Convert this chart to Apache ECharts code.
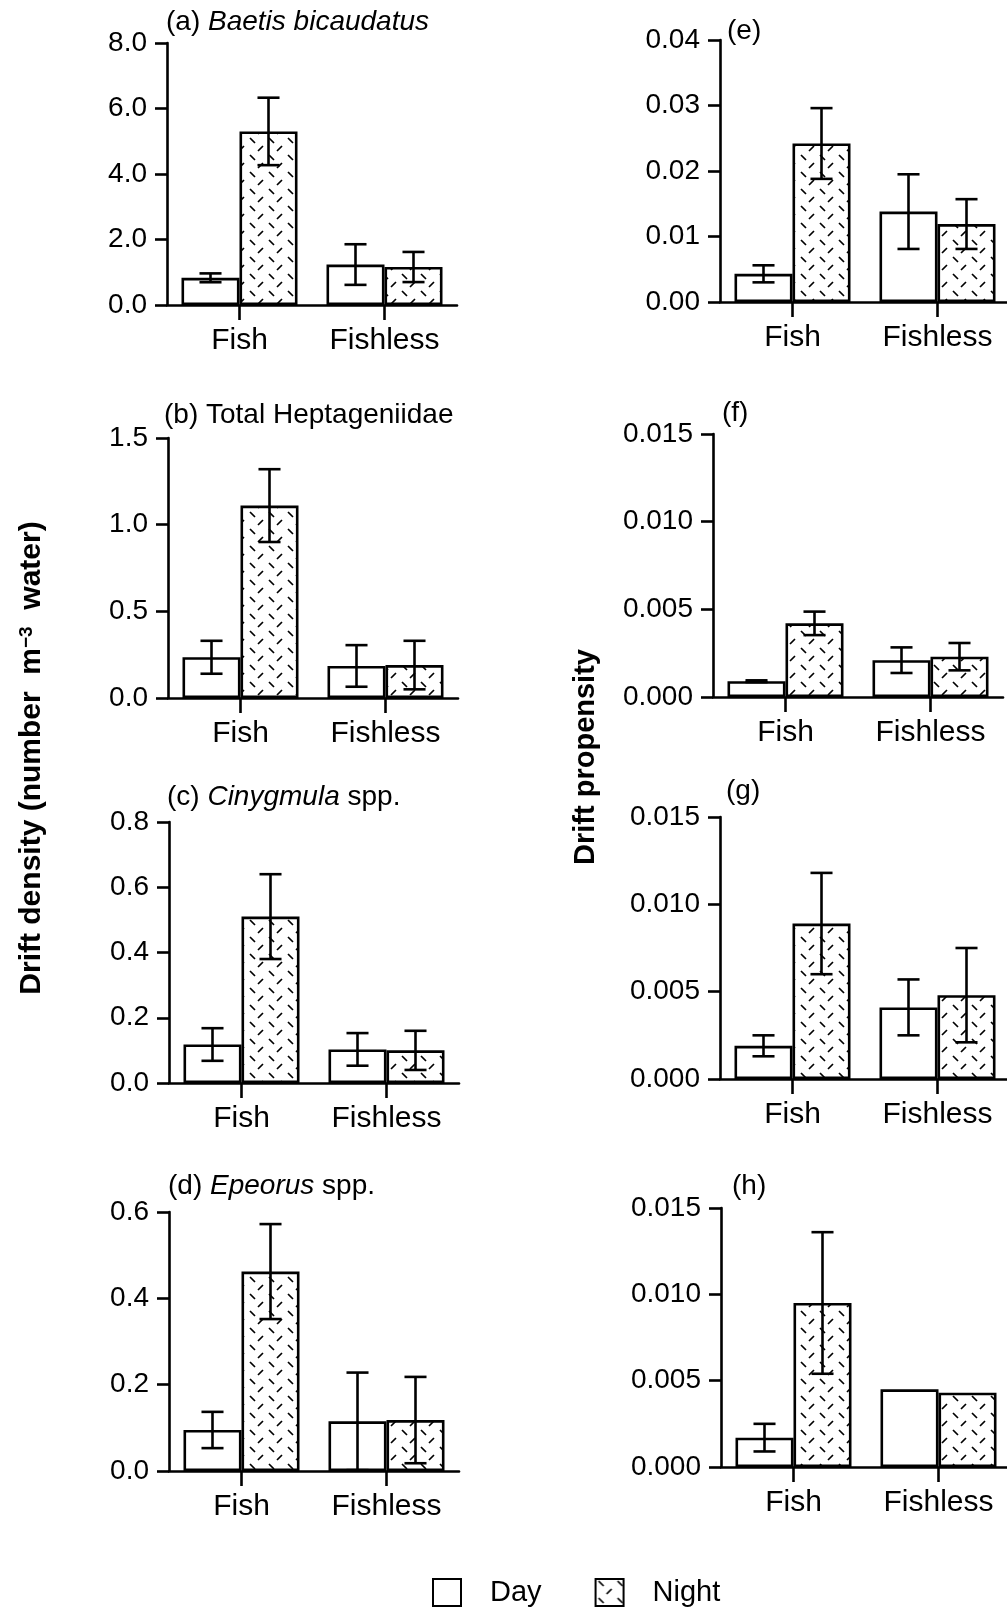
<!DOCTYPE html>
<html>
<head>
<meta charset="utf-8">
<script src="https://cdn.jsdelivr.net/npm/echarts@6/dist/echarts.min.js"></script>
<style>
html,body{margin:0;padding:0;background:#fff;}
#chart{width:1007px;height:1610px;}
</style>
</head>
<body>
<div id="chart"></div>
<script>
// ---------- data ----------
const categories = ['Fish', 'Fishless'];
const legendNames = ['Day', 'Night'];

// (a) Baetis bicaudatus – drift density
const aDay = [0.83, 1.235];
const aDayErr = [0.135, 0.62];
const aNight = [5.3, 1.16];
const aNightErr = [1.03, 0.46];
const aTicks = [0, 8, 2];

// (b) Total Heptageniidae – drift density
const bDay = [0.235, 0.185];
const bDayErr = [0.095, 0.12];
const bNight = [1.11, 0.19];
const bNightErr = [0.21, 0.14];
const bTicks = [0, 1.5, 0.5];

// (c) Cinygmula spp. – drift density
const cDay = [0.118, 0.103];
const cDayErr = [0.05, 0.05];
const cNight = [0.51, 0.10];
const cNightErr = [0.13, 0.06];
const cTicks = [0, 0.8, 0.2];

// (d) Epeorus spp. – drift density
const dDay = [0.095, 0.115];
const dDayErr = [0.042, 0.113];
const dNight = [0.462, 0.118];
const dNightErr = [0.11, 0.10];
const dTicks = [0, 0.6, 0.2];

// (e) drift propensity
const eDay = [0.0043, 0.0138];
const eDayErr = [0.0013, 0.0057];
const eNight = [0.0242, 0.0119];
const eNightErr = [0.0054, 0.0038];
const eTicks = [0, 0.04, 0.01];

// (f) drift propensity
const fDay = [0.0009, 0.0021];
const fDayErr = [0.00005, 0.00073];
const fNight = [0.0042, 0.0023];
const fNightErr = [0.00067, 0.00078];
const fTicks = [0, 0.015, 0.005];

// (g) drift propensity
const gDay = [0.0019, 0.0041];
const gDayErr = [0.0006, 0.0016];
const gNight = [0.0089, 0.0048];
const gNightErr = [0.0029, 0.0027];
const gTicks = [0, 0.015, 0.005];

// (h) drift propensity
const hDay = [0.0017, 0.0045];
const hDayErr = [0.0008, 0];
const hNight = [0.0095, 0.0043];
const hNightErr = [0.0041, 0];
const hTicks = [0, 0.015, 0.005];

// ---------- styling / layout ----------
const FONT = '"Liberation Sans", Arial, Helvetica, sans-serif';
const LW = 2.6;

function makePattern() {
  const W = 19, H = 17;
  const c = document.createElement('canvas');
  c.width = W; c.height = H;
  const ctx = c.getContext('2d');
  ctx.fillStyle = '#fff';
  ctx.fillRect(0, 0, W, H);
  ctx.strokeStyle = '#000';
  ctx.lineWidth = 1.7;
  ctx.lineCap = 'butt';
  ctx.beginPath();
  ctx.moveTo(3, 2); ctx.lineTo(8, 7);       // "\" dash
  ctx.moveTo(16, 10); ctx.lineTo(11, 15);   // "/" dash
  ctx.stroke();
  return c;
}
const hatch = { image: makePattern(), repeat: 'repeat' };

const panels = [
  { day: aDay, dayErr: aDayErr, night: aNight, nightErr: aNightErr, ticks: aTicks, dec: 1, left: 167, top: 43, height: 262 },
  { day: bDay, dayErr: bDayErr, night: bNight, nightErr: bNightErr, ticks: bTicks, dec: 1, left: 168, top: 438, height: 260 },
  { day: cDay, dayErr: cDayErr, night: cNight, nightErr: cNightErr, ticks: cTicks, dec: 1, left: 169, top: 822, height: 261 },
  { day: dDay, dayErr: dDayErr, night: dNight, nightErr: dNightErr, ticks: dTicks, dec: 1, left: 169, top: 1212, height: 259 },
  { day: eDay, dayErr: eDayErr, night: eNight, nightErr: eNightErr, ticks: eTicks, dec: 2, left: 720, top: 40, height: 262 },
  { day: fDay, dayErr: fDayErr, night: fNight, nightErr: fNightErr, ticks: fTicks, dec: 3, left: 713, top: 434, height: 263 },
  { day: gDay, dayErr: gDayErr, night: gNight, nightErr: gNightErr, ticks: gTicks, dec: 3, left: 720, top: 817, height: 262 },
  { day: hDay, dayErr: hDayErr, night: hNight, nightErr: hNightErr, ticks: hTicks, dec: 3, left: 721, top: 1208, height: 259 }
];

const titles = [
  { x: 166, y: 22, text: '(a) {i|Baetis bicaudatus}' },
  { x: 164, y: 415, text: '(b) Total Heptageniidae' },
  { x: 167, y: 797, text: '(c) {i|Cinygmula} spp.' },
  { x: 168, y: 1186, text: '(d) {i|Epeorus} spp.' },
  { x: 727, y: 31, text: '(e)' },
  { x: 722, y: 413, text: '(f)' },
  { x: 726, y: 791, text: '(g)' },
  { x: 732, y: 1186, text: '(h)' }
];

function renderErr(params, api) {
  const cat = api.value(0), mean = api.value(1), err = api.value(2), side = api.value(3);
  if (!err) return null;
  const band = api.size([1, 0])[0];
  const barW = band * 0.8 / 2;
  const cx = api.coord([cat, 0])[0] + side * barW / 2;
  const yTop = api.coord([cat, mean + err])[1];
  const yBot = api.coord([cat, mean - err])[1];
  const cap = barW * 0.19;
  const st = { stroke: '#000', lineWidth: LW };
  return {
    type: 'group',
    children: [
      { type: 'line', shape: { x1: cx, y1: yTop, x2: cx, y2: yBot }, style: st },
      { type: 'line', shape: { x1: cx - cap, y1: yTop, x2: cx + cap, y2: yTop }, style: st },
      { type: 'line', shape: { x1: cx - cap, y1: yBot, x2: cx + cap, y2: yBot }, style: st }
    ]
  };
}

const grid = [], xAxis = [], yAxis = [], series = [];
panels.forEach((p, i) => {
  grid.push({ left: p.left, top: p.top, width: 290, height: p.height, containLabel: false, outerBoundsMode: 'none' });
  xAxis.push({
    type: 'category', gridIndex: i, data: categories,
    axisLine: { show: true, lineStyle: { color: '#000', width: LW } },
    axisTick: { show: true, alignWithLabel: true, length: 15, lineStyle: { color: '#000', width: LW } },
    axisLabel: { fontSize: 30, color: '#000', fontFamily: FONT, margin: 21 },
    splitLine: { show: false }
  });
  yAxis.push({
    type: 'value', gridIndex: i, min: p.ticks[0], max: p.ticks[1], interval: p.ticks[2],
    axisLine: { show: true, lineStyle: { color: '#000', width: LW } },
    axisTick: { show: true, length: 12, lineStyle: { color: '#000', width: LW } },
    axisLabel: { fontSize: 28, color: '#000', fontFamily: FONT, margin: 20, formatter: v => v.toFixed(p.dec) },
    splitLine: { show: false }
  });
  series.push({
    type: 'bar', name: 'Day', xAxisIndex: i, yAxisIndex: i, data: p.day,
    barGap: '0%', barCategoryGap: '20%',
    itemStyle: { color: '#fff', borderColor: '#000', borderWidth: LW },
    emphasis: { disabled: true }
  });
  series.push({
    type: 'bar', name: 'Night', xAxisIndex: i, yAxisIndex: i, data: p.night,
    barGap: '0%', barCategoryGap: '20%',
    itemStyle: { color: hatch, borderColor: '#000', borderWidth: LW },
    emphasis: { disabled: true }
  });
  const errData = [];
  p.day.forEach((v, k) => errData.push([k, v, p.dayErr[k], -1]));
  p.night.forEach((v, k) => errData.push([k, v, p.nightErr[k], 1]));
  series.push({
    type: 'custom', name: 'err' + i, xAxisIndex: i, yAxisIndex: i, z: 5,
    renderItem: renderErr, data: errData, encode: { x: 0, y: 1 }, silent: true
  });
});

const graphic = titles.map(t => ({
  type: 'text', x: t.x, y: t.y,
  style: {
    text: t.text, fontSize: 28, fontFamily: FONT, fill: '#000',
    align: 'left', verticalAlign: 'middle', textAlign: 'left', textVerticalAlign: 'middle',
    rich: { i: { fontStyle: 'italic', fontSize: 28, fontFamily: FONT, fill: '#000' } }
  }
}));
graphic.push({
  type: 'text', x: 32, y: 758, rotation: Math.PI / 2,
  style: {
    text: 'Drift density (number  m{sup|−3}  water)', fontSize: 30, fontWeight: 'bold', fontFamily: FONT, fill: '#000',
    align: 'center', verticalAlign: 'middle', textAlign: 'center', textVerticalAlign: 'middle',
    rich: { sup: { fontSize: 19, fontWeight: 'bold', fontFamily: FONT, fill: '#000', verticalAlign: 'top' } }
  }
});
graphic.push({
  type: 'text', x: 586, y: 757, rotation: Math.PI / 2,
  style: {
    text: 'Drift propensity', fontSize: 29, fontWeight: 'bold', fontFamily: FONT, fill: '#000',
    align: 'center', verticalAlign: 'middle', textAlign: 'center', textVerticalAlign: 'middle'
  }
});

const chart = echarts.init(document.getElementById('chart'), null, { renderer: 'canvas' });
chart.setOption({
  backgroundColor: '#fff',
  animation: false,
  grid, xAxis, yAxis, series, graphic,
  legend: {
    data: legendNames, left: 432, top: 1578, icon: 'rect', padding: 0,
    itemWidth: 28, itemHeight: 27, itemGap: 53,
    itemStyle: { borderColor: '#000', borderWidth: 2 },
    textStyle: { fontSize: 29, color: '#000', fontFamily: FONT, padding: [0, 0, 0, 24] },
    selectedMode: false
  }
});
</script>
</body>
</html>
